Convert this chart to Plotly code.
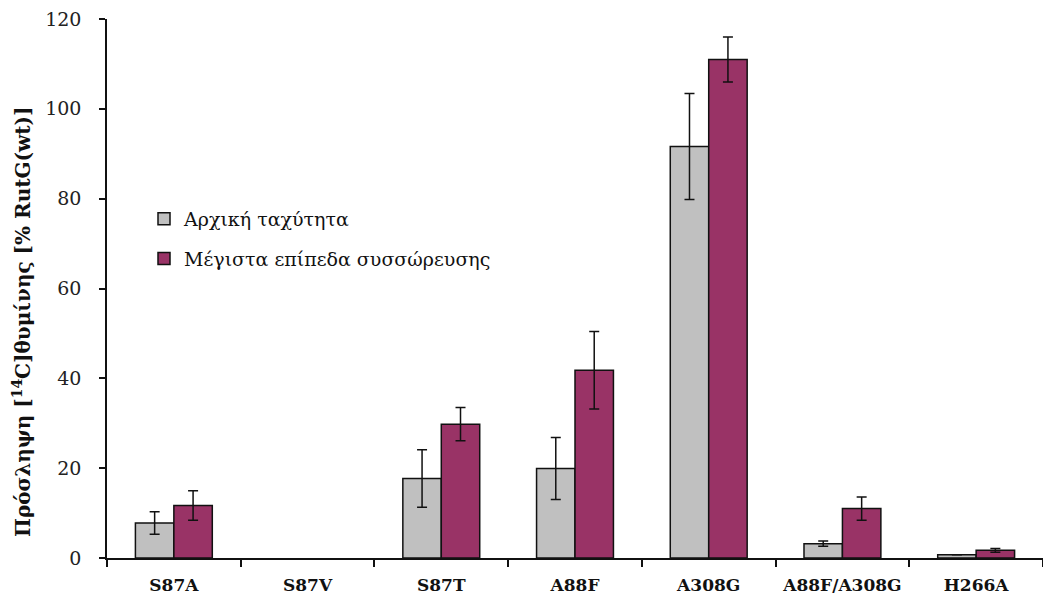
import plotly.graph_objects as go

# Mutant constructs
mutants = ["S87A", "S87V", "S87T", "A88F", "A308G", "A88F/A308G", "H266A"]

# Initial uptake rate, % of wild-type RutG (S87V not detectable)
initial_rate = [7.8, None, 17.7, 19.9, 91.6, 3.2, 0.7]
initial_rate_err = [2.5, None, 6.4, 6.9, 11.8, 0.6, None]

# Maximal accumulation level, % of wild-type RutG
max_accum = [11.7, None, 29.8, 41.8, 111.0, 11.0, 1.7]
max_accum_err = [3.3, None, 3.7, 8.6, 5.0, 2.6, 0.4]

y_ticks = [0, 20, 40, 60, 80, 100, 120]

FONT = "DejaVu Serif"

W, H = 1043, 604
ML, MR, MT, MB = 107, 0, 19, 46

fig = go.Figure()

fig.add_trace(go.Bar(
    x=mutants, y=initial_rate,
    name="Αρχική ταχύτητα",
    legendgroup="a",
    marker=dict(color="#C0C0C0", line=dict(color="#111111", width=1.5)),
    error_y=dict(type="data", array=initial_rate_err, visible=True,
                 color="#111111", thickness=1.5, width=5),
))
fig.add_trace(go.Bar(
    x=mutants, y=max_accum,
    name="Μέγιστα επίπεδα συσσώρευσης",
    legendgroup="b",
    marker=dict(color="#993366", line=dict(color="#111111", width=1.5)),
    error_y=dict(type="data", array=max_accum_err, visible=True,
                 color="#111111", thickness=1.5, width=5),
))

plot_h = H - MT - MB
plot_w = W - ML - MR

fig.update_layout(
    width=W, height=H,
    margin=dict(l=ML, r=MR, t=MT, b=MB, pad=0),
    paper_bgcolor="white", plot_bgcolor="white",
    barmode="group", bargap=0.425, bargroupgap=0,
    font=dict(family=FONT, color="#111111"),
    showlegend=True,
    legend=dict(
        x=(144 - ML) / plot_w, y=(558 - 200) / plot_h,
        xanchor="left", yanchor="top",
        traceorder="grouped", tracegroupgap=12,
        font=dict(family=FONT, size=19, color="#111111"),
        bgcolor="rgba(0,0,0,0)", borderwidth=0,
    ),
    xaxis=dict(
        type="category",
        range=[-0.5, 6.5],
        showline=True, linecolor="#111111", linewidth=1.5,
        ticks="outside", tickson="boundaries", ticklen=7,
        tickwidth=1.5, tickcolor="#111111",
        tickfont=dict(family=FONT, size=17, color="#111111", weight="bold"),
        ticklabelstandoff=11,
        showgrid=False, zeroline=False,
    ),
    yaxis=dict(
        range=[0, 120],
        tickvals=y_ticks,
        showline=True, linecolor="#111111", linewidth=1.5,
        ticks="outside", ticklen=6, tickwidth=1.5, tickcolor="#111111",
        tickfont=dict(family=FONT, size=19, color="#222222"),
        ticklabelstandoff=14,
        showgrid=False, zeroline=False,
    ),
    annotations=[dict(
        text="Πρόσληψη [<sup>14</sup>C]θυμίνης [% RutG(wt)]",
        xref="paper", yref="paper",
        x=(22 - ML) / plot_w, y=(558 - 322) / plot_h,
        xanchor="center", yanchor="middle",
        textangle=-90, showarrow=False,
        font=dict(family=FONT, size=20, color="#111111", weight="bold"),
    )],
)

fig.write_html("out.html")
